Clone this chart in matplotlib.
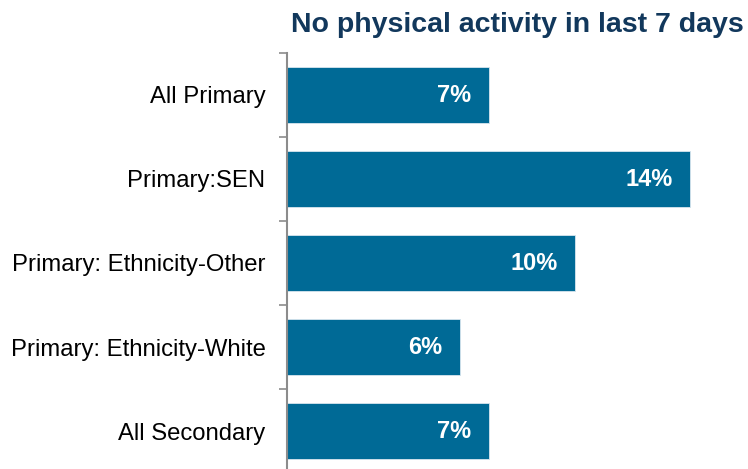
import matplotlib
matplotlib.use("Agg")
import matplotlib.pyplot as plt

plt.rcParams["font.family"] = ["Liberation Sans", "DejaVu Sans"]

categories = ["All Primary", "Primary:SEN", "Primary: Ethnicity-Other",
              "Primary: Ethnicity-White", "All Secondary"]
values = [7, 14, 10, 6, 7]
value_labels = ["7%", "14%", "10%", "6%", "7%"]

BAR_COLOR = "#006A96"
TITLE_COLOR = "#12385C"

fig = plt.figure(figsize=(7.48, 4.69), dpi=100)
ax = fig.add_axes([287 / 748, -4 / 469, 1 - 287 / 748, 420 / 469])

y = list(range(len(categories)))
ax.barh(y, values, height=0.67, color=BAR_COLOR, edgecolor="#d8e6ee", linewidth=0.6)

for yi, v, lab in zip(y, values, value_labels):
    ax.text(v - 0.6, yi, lab, ha="right", va="center", color="white",
            fontsize=17, fontweight="bold")

ax.set_xlim(0, 16)
ax.set_ylim(len(categories) - 0.5, -0.5)

# category labels at bar centres, tick marks at the boundaries
ax.set_yticks(y)
ax.set_yticklabels(categories, fontsize=17.2)
ax.tick_params(axis="y", which="major", length=0, pad=15.5)
ax.set_yticks([i - 0.5 for i in range(len(categories) + 1)], minor=True)
ax.tick_params(axis="y", which="minor", length=5.5, width=1.2, color="#8c8c8c")
ax.set_xticks([])

for s in ["top", "right", "bottom"]:
    ax.spines[s].set_visible(False)
ax.spines["left"].set_color("#8c8c8c")
ax.spines["left"].set_linewidth(1.5)

fig.text(517 / 748, 1 - 25 / 469, "No physical activity in last 7 days",
         ha="center", va="center", fontsize=20.5, fontweight="bold",
         color=TITLE_COLOR)

fig.savefig("out.png", dpi=100)
